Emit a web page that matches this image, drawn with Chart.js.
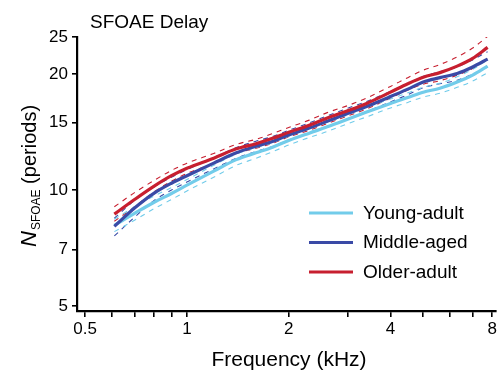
<!DOCTYPE html>
<html>
<head>
<meta charset="utf-8">
<script src="https://cdn.jsdelivr.net/npm/chart.js@4/dist/chart.umd.min.js"></script>
<style>
html,body{margin:0;padding:0;background:#fff;}
#wrap{width:499px;height:372px;position:relative;}
</style>
</head>
<body>
<div id="wrap"><canvas id="c" width="499" height="372"></canvas></div>
<script>
// ---- data (kHz, periods) ----
const freqs = [0.61, 0.7, 0.8, 0.9, 1.0, 1.2, 1.4, 1.6, 1.8, 2.0, 2.3, 2.6, 3.0, 3.4, 4.0, 4.5, 5.0, 5.6, 6.3, 7.0, 7.75];

const youngAdult  = [8.1, 8.7, 9.3, 9.8, 10.3, 11.2, 12.0, 12.5, 12.95, 13.45, 14.06, 14.6, 15.3, 15.95, 16.8, 17.4, 17.97, 18.4, 19.1, 19.9, 21.0];
const youngUpper  = [8.4, 9.05, 9.65, 10.15, 10.65, 11.6, 12.4, 12.9, 13.3, 13.8, 14.45, 15.0, 15.7, 16.4, 17.25, 17.9, 18.5, 18.95, 19.7, 20.6, 21.8];
const youngLower  = [7.8, 8.35, 8.95, 9.45, 9.95, 10.8, 11.6, 12.1, 12.6, 13.1, 13.7, 14.2, 14.9, 15.5, 16.35, 16.9, 17.45, 17.85, 18.5, 19.2, 20.2];

const middleAged  = [8.05, 8.98, 9.82, 10.42, 10.9, 11.75, 12.5, 13.0, 13.4, 13.9, 14.5, 15.1, 15.85, 16.5, 17.5, 18.3, 19.1, 19.6, 20.1, 20.9, 21.9];
const middleUpper = [8.45, 9.4, 10.2, 10.8, 11.3, 12.15, 12.9, 13.4, 13.8, 14.3, 14.95, 15.6, 16.35, 17.0, 18.05, 18.9, 19.75, 20.3, 20.9, 21.8, 22.9];
const middleLower = [7.6, 8.5, 9.4, 10.0, 10.5, 11.35, 12.1, 12.6, 13.0, 13.5, 14.05, 14.6, 15.35, 16.0, 16.95, 17.7, 18.45, 18.9, 19.3, 20.0, 20.9];

const olderAdult  = [8.66, 9.45, 10.24, 10.9, 11.4, 12.1, 12.8, 13.2, 13.65, 14.14, 14.75, 15.4, 16.1, 16.8, 17.97, 18.9, 19.65, 20.2, 21.0, 22.0, 23.5];
const olderUpper  = [9.05, 9.85, 10.6, 11.25, 11.75, 12.45, 13.15, 13.55, 14.05, 14.55, 15.2, 15.9, 16.6, 17.35, 18.6, 19.6, 20.5, 21.2, 22.2, 23.4, 25.1];
const olderLower  = [8.3, 9.05, 9.9, 10.55, 11.05, 11.75, 12.45, 12.85, 13.25, 13.75, 14.3, 14.9, 15.6, 16.25, 17.35, 18.2, 18.85, 19.25, 19.9, 20.7, 22.0];

const seriesLabels = ['Young-adult', 'Middle-aged', 'Older-adult'];
const xTickValues = [0.5, 0.6, 0.7, 0.8, 0.9, 1, 2, 3, 4, 5, 6, 7, 8];
const xTickLabels = ['0.5', '', '', '', '', '1', '2', '', '4', '', '', '', '8'];
const yTickValues = [5, 7, 10, 15, 20, 25];
const yTickLabels = ['5', '7', '10', '15', '20', '25'];

// ---- styles ----
const COLORS = ['#72CCEA', '#3A4AA6', '#C71F2F'];
const FONT = '"Liberation Sans", Arial, sans-serif';

function pts(ys) { return freqs.map((f, i) => ({ x: f, y: ys[i] })); }

function mainLine(label, ys, color, order) {
  return { label, data: pts(ys), borderColor: color, backgroundColor: color,
    borderWidth: 3.2, pointRadius: 0, cubicInterpolationMode: 'monotone', fill: false, order, isMain: true };
}
function bandLine(ys, color) {
  return { label: '', data: pts(ys), borderColor: color, borderWidth: 1.1,
    borderDash: [5, 5], pointRadius: 0, cubicInterpolationMode: 'monotone', fill: false, order: 10, isMain: false };
}

const datasets = [
  bandLine(youngUpper, COLORS[0]), bandLine(youngLower, COLORS[0]),
  bandLine(middleUpper, COLORS[1]), bandLine(middleLower, COLORS[1]),
  bandLine(olderUpper, COLORS[2]), bandLine(olderLower, COLORS[2]),
  mainLine(seriesLabels[0], youngAdult, COLORS[0], 3),
  mainLine(seriesLabels[1], middleAged, COLORS[1], 2),
  mainLine(seriesLabels[2], olderAdult, COLORS[2], 1)
];

const annotations = {
  id: 'annotations',
  afterDraw(chart) {
    const ctx = chart.ctx;
    ctx.save();
    ctx.fillStyle = '#000';
    ctx.textBaseline = 'alphabetic';
    // chart title
    ctx.font = '19px ' + FONT;
    ctx.textAlign = 'left';
    ctx.fillText('SFOAE Delay', 90, 28);
    // x title
    ctx.font = '21px ' + FONT;
    ctx.textAlign = 'center';
    ctx.fillText('Frequency (kHz)', 289, 366);
    // y title (rotated, with subscript)
    ctx.translate(36, 247);
    ctx.rotate(-Math.PI / 2);
    ctx.textAlign = 'left';
    ctx.font = 'italic 22px ' + FONT;
    ctx.fillText('N', 0, 0);
    const wN = ctx.measureText('N').width;
    ctx.font = '12px ' + FONT;
    ctx.fillText('SFOAE', wN + 1, 4);
    const wS = ctx.measureText('SFOAE').width;
    ctx.font = '20px ' + FONT;
    ctx.fillText(' (periods)', wN + 1 + wS, 0);
    ctx.restore();

    // legend
    ctx.save();
    const mains = chart.data.datasets.filter(d => d.isMain);
    const ly = [213, 242.5, 272];
    mains.forEach((d, i) => {
      ctx.strokeStyle = d.borderColor;
      ctx.lineWidth = 3.2;
      ctx.beginPath();
      ctx.moveTo(309, ly[i]);
      ctx.lineTo(353, ly[i]);
      ctx.stroke();
      ctx.fillStyle = '#000';
      ctx.font = '19px ' + FONT;
      ctx.textAlign = 'left';
      ctx.textBaseline = 'middle';
      ctx.fillText(d.label, 363, ly[i] + 0.5);
    });
    ctx.restore();
  }
};

new Chart(document.getElementById('c'), {
  type: 'line',
  data: { datasets },
  plugins: [annotations],
  options: {
    responsive: false,
    animation: false,
    devicePixelRatio: 1,
    layout: { padding: { top: 37, right: 0, left: 0, bottom: 0 } },
    plugins: { legend: { display: false }, tooltip: { enabled: false }, title: { display: false } },
    scales: {
      x: {
        type: 'logarithmic', min: 0.473, max: 8.22,
        afterBuildTicks: s => { s.ticks = xTickValues.map(v => ({ value: v })); },
        afterFit: s => { s.height = 61; },
        ticks: { autoSkip: false, maxRotation: 0, minRotation: 0, padding: 2, color: '#000',
          font: { size: 17, family: FONT },
          callback: (v, i) => xTickLabels[i] },
        grid: { display: true, drawOnChartArea: false, drawTicks: true, tickLength: 6, color: '#000', lineWidth: 1.6 },
        border: { display: true, color: '#000', width: 2.2 }
      },
      y: {
        type: 'logarithmic', min: 4.85, max: 25,
        afterBuildTicks: s => { s.ticks = yTickValues.map(v => ({ value: v })); },
        afterFit: s => { s.width = 77; },
        ticks: { autoSkip: false, padding: 4, color: '#000',
          font: { size: 17, family: FONT },
          callback: (v, i) => yTickLabels[i] },
        grid: { display: true, drawOnChartArea: false, drawTicks: true, tickLength: 5, color: '#000', lineWidth: 1.6 },
        border: { display: true, color: '#000', width: 2.2 }
      }
    }
  }
});
</script>
</body>
</html>
